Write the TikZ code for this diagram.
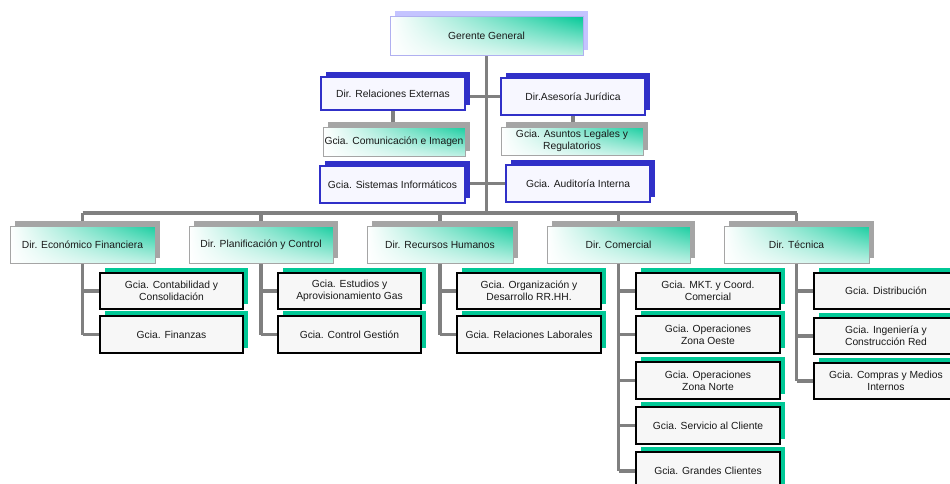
\documentclass[tikz,border=0pt]{standalone}
\usepackage{fontspec}
\setmainfont{Liberation Sans}
\usetikzlibrary{shadings}
\definecolor{grn}{RGB}{0,200,150}
\definecolor{lav}{RGB}{196,196,255}
\definecolor{lavb}{RGB}{176,176,240}
\definecolor{blu}{RGB}{48,48,200}
\definecolor{gry}{RGB}{165,165,165}
\definecolor{wirec}{RGB}{128,128,128}
\definecolor{txt}{RGB}{25,25,25}
\pgfdeclarelayer{lines}
\pgfdeclarelayer{shad}
\pgfsetlayers{lines,shad,main}
\tikzset{
 base/.style={inner sep=1pt, outer sep=0pt, align=center, text=txt, font=\fontsize{10.3}{12}\selectfont},
 gbox/.style={base, draw=lavb, line width=1pt, shade, upper left=white, lower left=white, upper right=grn, lower right=grn!25!white},
 dbox/.style={base, draw=gry, line width=0.8pt, shade, upper left=white, lower left=white, upper right=grn!90!white, lower right=grn!25!white},
 bbox/.style={base, draw=blu, line width=1.2pt, fill=blue!3!white},
 sbox/.style={base, draw=black, line width=1.3pt, fill=black!3!white},
 wire/.style={draw=wirec, line width=3.8pt},
}
\newcommand\mkbox[8]{%
 \begin{pgfonlayer}{shad}\fill[#3] ({#4+5},{#5-5}) rectangle ({#6+5},{#7-5});\end{pgfonlayer}
 \node[#2, minimum width={(#6)-(#4)}, minimum height={(#7)-(#5)}] (#1) at ({(#4+#6)/2},{(#5+#7)/2}) {#8};}
\begin{document}
\begin{tikzpicture}[x=1pt,y=-1pt]
\useasboundingbox (0,0) rectangle (950,483);
\begin{pgfonlayer}{lines}
\fill[white] (0,0) rectangle (950,483);
\end{pgfonlayer}
% top
\mkbox{gg}{gbox}{lav}{390}{16}{583}{55}{Gerente General}
\mkbox{dre}{bbox}{blu}{321}{77}{465}{110}{Dir. Relaciones Externas}
\mkbox{daj}{bbox}{blu}{501}{78}{645}{115}{Dir.Asesoría Jurídica}
\mkbox{gci}{dbox}{gry}{323}{127}{465}{156}{Gcia. Comunicación e Imagen}
\mkbox{gal}{dbox}{gry}{501}{127}{643}{155}{Gcia. Asuntos Legales y\\Regulatorios}
\mkbox{gsi}{bbox}{blu}{320}{166}{465}{203}{Gcia. Sistemas Informáticos}
\mkbox{gai}{bbox}{blu}{506}{165}{650}{202}{Gcia. Auditoría Interna}
% directors
\mkbox{def}{dbox}{gry}{10}{226}{155}{263}{Dir. Económico Financiera}
\mkbox{dpc}{dbox}{gry}{189}{226}{333}{263}{Dir. Planificación y Control}
\mkbox{drh}{dbox}{gry}{367}{226}{513}{263}{Dir. Recursos Humanos}
\mkbox{dco}{dbox}{gry}{547}{226}{690}{263}{Dir. Comercial}
\mkbox{dte}{dbox}{gry}{724}{226}{869}{263}{Dir. Técnica}
% subs
\mkbox{s11}{sbox}{grn}{100}{273}{243}{309}{Gcia. Contabilidad y\\Consolidación}
\mkbox{s12}{sbox}{grn}{100}{316}{243}{353}{Gcia. Finanzas}
\mkbox{s21}{sbox}{grn}{278}{273}{421}{309}{Gcia. Estudios y\\Aprovisionamiento Gas}
\mkbox{s22}{sbox}{grn}{278}{316}{421}{353}{Gcia. Control Gestión}
\mkbox{s31}{sbox}{grn}{457}{273}{601}{309}{Gcia. Organización y\\Desarrollo RR.HH.}
\mkbox{s32}{sbox}{grn}{457}{316}{601}{353}{Gcia. Relaciones Laborales}
\mkbox{s41}{sbox}{grn}{636}{273}{780}{309}{Gcia. MKT. y Coord.\\Comercial}
\mkbox{s42}{sbox}{grn}{636}{316}{780}{353}{Gcia. Operaciones\\Zona Oeste}
\mkbox{s43}{sbox}{grn}{636}{362}{780}{399}{Gcia. Operaciones\\Zona Norte}
\mkbox{s44}{sbox}{grn}{636}{407}{780}{444}{Gcia. Servicio al Cliente}
\mkbox{s45}{sbox}{grn}{636}{452}{780}{490}{Gcia. Grandes Clientes}
\mkbox{s51}{sbox}{grn}{814}{273}{958}{309}{Gcia. Distribución}
\mkbox{s52}{sbox}{grn}{814}{318}{958}{354}{Gcia. Ingeniería y\\Construcción Red}
\mkbox{s53}{sbox}{grn}{814}{363}{958}{399}{Gcia. Compras y Medios\\Internos}
\coordinate (bus) at (487,213);
\begin{pgfonlayer}{lines}
\draw[wire] (gg.south) -- (gg.south |- bus);
\draw[wire] (daj.west) -- (daj.west -| dre.east);
\draw[wire] (gai.west) -- (gai.west -| gsi.east);
\draw[wire] (dre.south) -- (dre.south |- gci.north);
\draw[wire] (daj.south) -- (daj.south |- gal.north);
\draw[wire] (def.center |- bus) -- (dte.center |- bus);
\draw[wire] (def.center |- bus) -- (def.center |- s12.west);
\draw[wire] (dpc.center |- bus) -- (dpc.center |- s22.west);
\draw[wire] (drh.center |- bus) -- (drh.center |- s32.west);
\draw[wire] (dco.center |- bus) -- (dco.center |- s45.west);
\draw[wire] (dte.center |- bus) -- (dte.center |- s53.west);
\foreach \d/\s in {def/s11,def/s12,dpc/s21,dpc/s22,drh/s31,drh/s32,dco/s41,dco/s42,dco/s43,dco/s44,dco/s45,dte/s51,dte/s52,dte/s53}
  \draw[wire] (\d.center |- \s.west) -- (\s.west);
\end{pgfonlayer}
\end{tikzpicture}
\end{document}
